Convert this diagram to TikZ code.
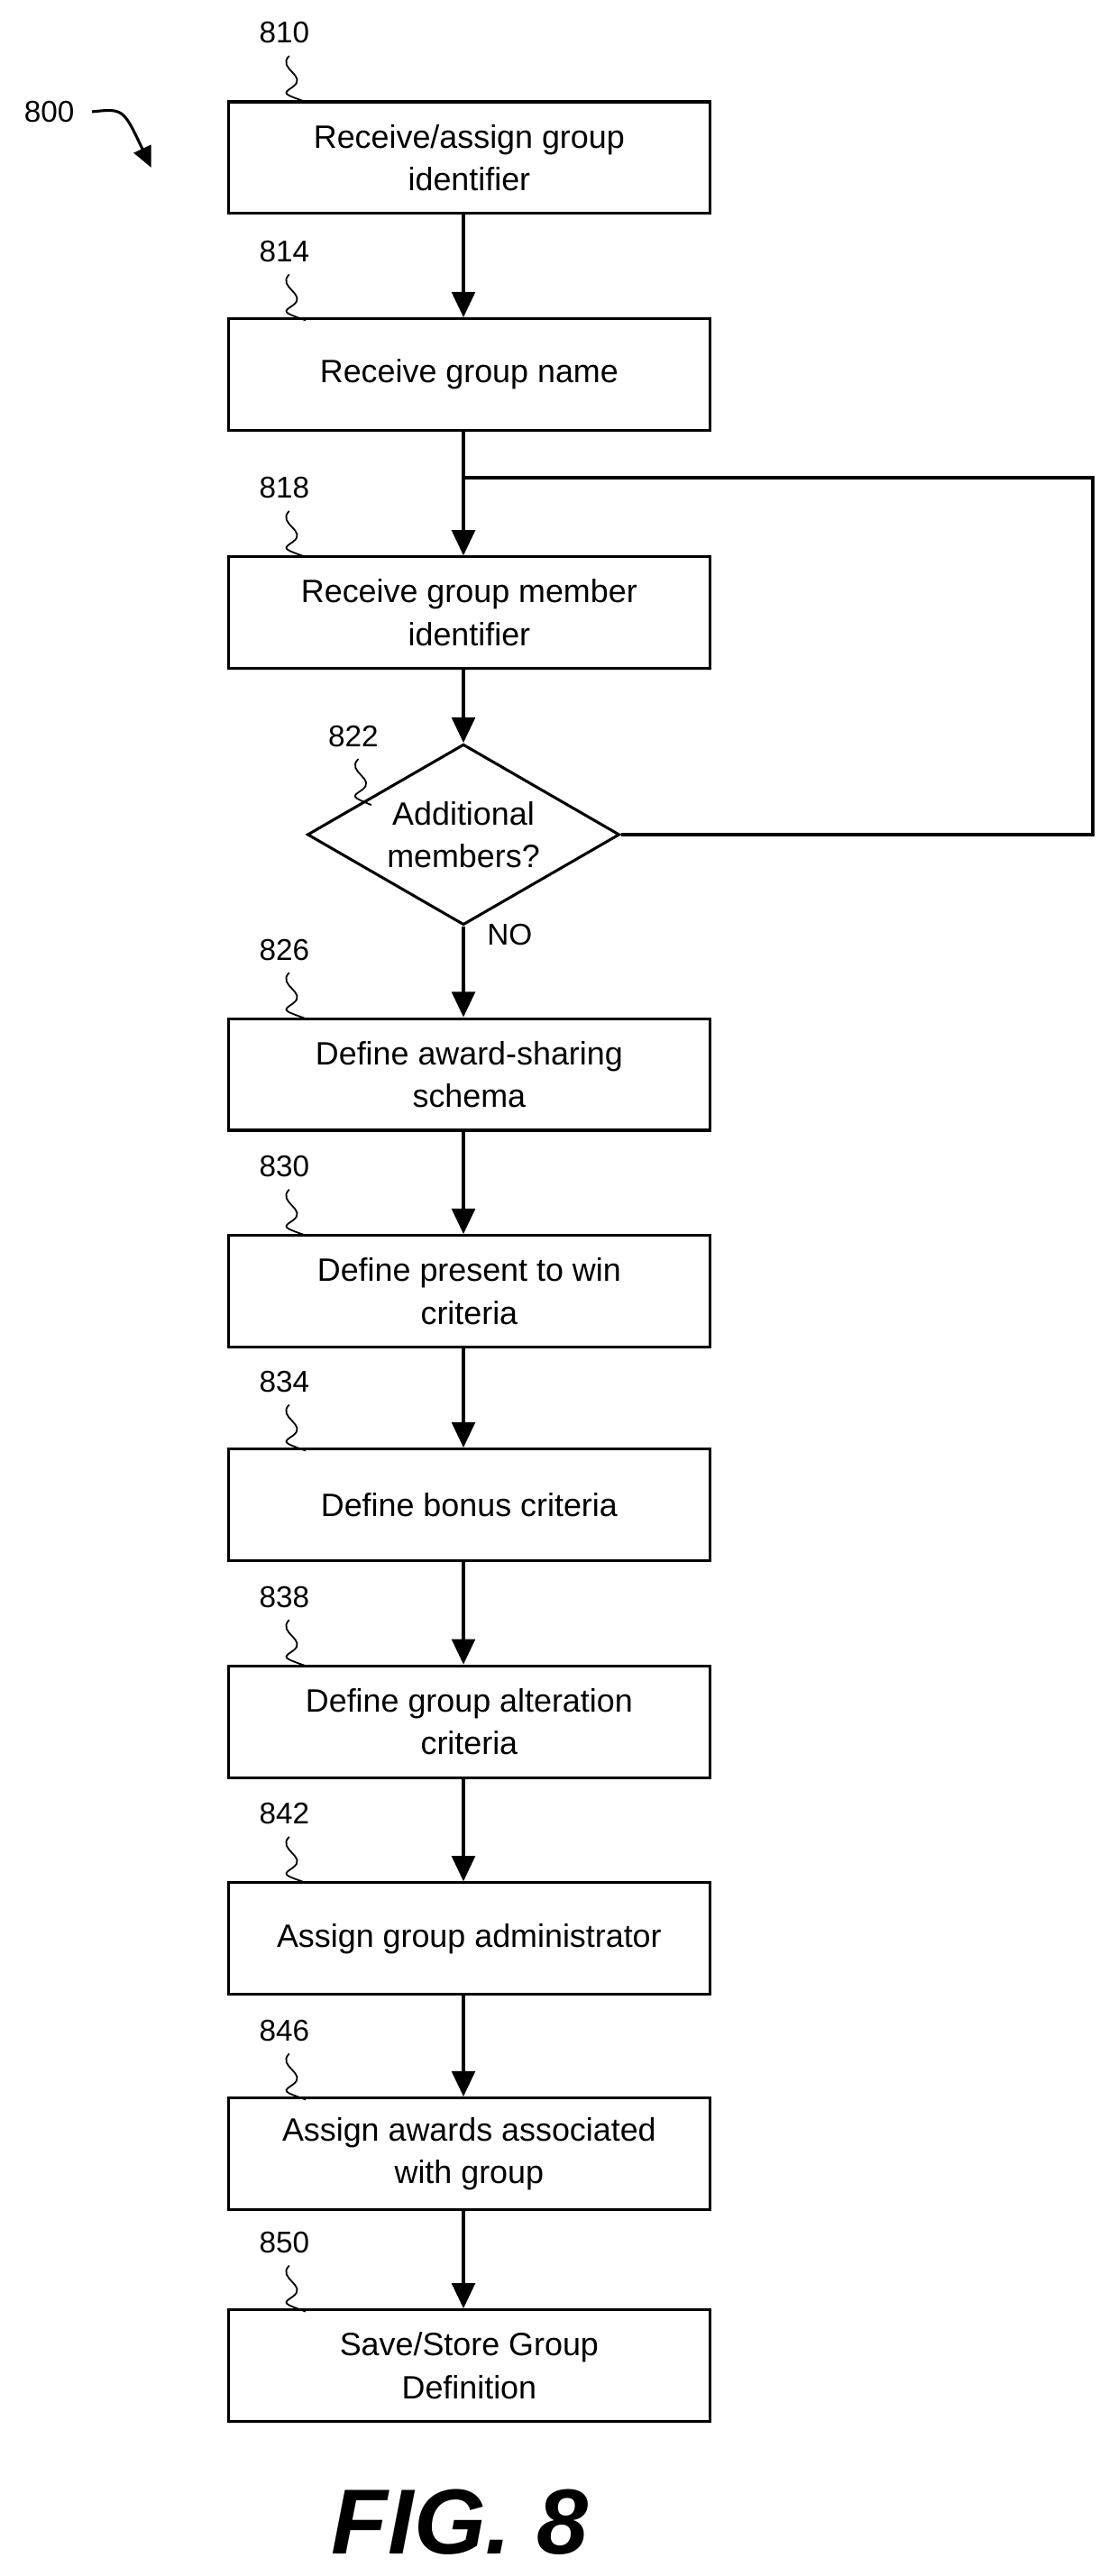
\documentclass[tikz,border=0pt]{standalone}
\usepackage{fontspec}
\setmainfont{Liberation Sans}
\usetikzlibrary{shapes.geometric,arrows.meta}
\begin{document}
\begin{tikzpicture}[x=0.05cm,y=-0.05cm,
	box/.style={draw,line width=2.4pt,minimum width=14.65cm,minimum height=3.4cm,align=center,font=\fontsize{28}{37}\selectfont},
	flow/.style={line width=3pt,-{Triangle[length=22pt,width=20pt]}},
	tag/.style={font=\fontsize{26}{30}\selectfont},
	wig/.style={line width=1.4pt}]
			\useasboundingbox (0,0) rectangle (680,1568);
			\def \cx{ 285.5 };
			\node[box] (810) at (\cx,96) {Receive/assign group\\identifier};
			\node[box] (814) at (\cx,228) {Receive group name};
			\node[box] (818) at (\cx,373) {Receive group member\\identifier};
			\node[draw,diamond,aspect=1.73,line width=2.4pt,minimum width=9.5cm,minimum height=5.5cm,inner sep=-22pt,align=center,font=\fontsize{28}{37}\selectfont] (822) at (282,508) {Additional\\members?};
			\node[box] (826) at (\cx,654) {Define award-sharing\\schema};
			\node[box] (830) at (\cx,786) {Define present to win\\criteria};
			\node[box] (834) at (\cx,916) {Define bonus criteria};
			\node[box] (838) at (\cx,1048) {Define group alteration\\criteria};
			\node[box] (842) at (\cx,1180) {Assign group administrator};
			\node[box] (846) at (\cx,1311) {Assign awards associated\\with group};
			\node[box] (850) at (\cx,1440) {Save/Store Group\\Definition};
			% reference numbers
			\foreach \n/\y in {810/20,814/153,818/297,826/578,830/710,834/841,838/972,842/1104,846/1236,850/1365} {
				\node[tag] (t\n) at (173,\y) {\n};
				\draw[wig] (176,\y+14) .. controls (168,\y+22) and (188,\y+26) .. (178,\y+33) .. controls (172,\y+37) .. (186,\y+42);
			}
			\node[tag] (t822) at (215,448) {822};
			\draw[wig] (218,462) .. controls (210,470) and (230,474) .. (220,481) .. controls (214,485) .. (226,490);
			\node[tag] (t800) at (30,68) {800};
			\coordinate (a800) at (92,102);
			\draw[line width=2.4pt,-{Triangle[length=18pt,width=16pt]}] (56,68) .. controls (75,66) .. (a800);
			% connectors
			\coordinate (j) at (282,291);
			\coordinate (r1) at (665,508);
			\coordinate (r2) at (665,291);
			\draw[flow] (810.south -| j) -- (814.north -| j);
			\draw[line width=3pt] (814.south -| j) -- (j);
			\draw[flow] (j) -- (818.north -| j);
			\draw[flow] (818.south -| j) -- (822.north);
			\draw[line width=3pt] (822.east) -- (r1) -- (r2) -- (j);
			\draw[flow] (822.south) -- (826.north -| j);
			\node[tag,anchor=north west] (no) at (294,560) {NO};
			\draw[flow] (826.south -| j) -- (830.north -| j);
			\draw[flow] (830.south -| j) -- (834.north -| j);
			\draw[flow] (834.south -| j) -- (838.north -| j);
			\draw[flow] (838.south -| j) -- (842.north -| j);
			\draw[flow] (842.south -| j) -- (846.north -| j);
			\draw[flow] (846.south -| j) -- (850.north -| j);
			\node[font=\fontsize{80}{90}\selectfont\bfseries\itshape] (fig) at (280,1535) {FIG. 8};
		\end{tikzpicture}
\end{document}
